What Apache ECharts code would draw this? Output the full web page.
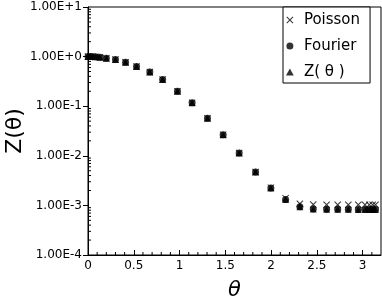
<!DOCTYPE html>
<html>
<head>
<meta charset="utf-8">
<script src="https://cdn.jsdelivr.net/npm/echarts@6/dist/echarts.min.js"></script>
<style>html,body{margin:0;padding:0;background:#fff}#c{width:382px;height:300px}</style>
</head>
<body>
<div id="c"></div>
<script>
var theta = [0, 0.034, 0.08, 0.13, 0.2, 0.3, 0.41, 0.53, 0.675, 0.815, 0.977, 1.137, 1.305, 1.476, 1.651, 1.83, 1.997, 2.158, 2.314, 2.46, 2.606, 2.727, 2.843, 2.952, 3.025, 3.072, 3.109, 3.14];
var fourier = [1.0, 1.0, 0.99, 0.97, 0.925, 0.87, 0.77, 0.63, 0.49, 0.344, 0.2, 0.117, 0.057, 0.0267, 0.0114, 0.00473, 0.00225, 0.00131, 0.00094, 0.00085, 0.00084, 0.00084, 0.00084, 0.00083, 0.00083, 0.00083, 0.00083, 0.00083];
var poisson = [1.0, 1.0, 0.99, 0.97, 0.925, 0.87, 0.77, 0.63, 0.49, 0.344, 0.2, 0.117, 0.057, 0.0267, 0.0114, 0.00473, 0.00228, 0.0014, 0.00108, 0.00104, 0.00103, 0.00103, 0.00103, 0.00103, 0.00103, 0.00103, 0.00103, 0.00103];
var zTheta = [1.0, 1.0, 0.99, 0.97, 0.925, 0.87, 0.77, 0.63, 0.49, 0.344, 0.2, 0.117, 0.057, 0.0267, 0.0114, 0.00473, 0.00225, 0.00131, 0.00094, 0.00085, 0.00084, 0.00084, 0.00084, 0.00083, 0.00083, 0.00083, 0.00083, 0.00083];
var seriesNames = ['Poisson', 'Fourier', 'Z( θ )'];
var xMinorTicks = [0.1,0.2,0.3,0.4,0.6,0.7,0.8,0.9,1.1,1.2,1.3,1.4,1.6,1.7,1.8,1.9,2.1,2.2,2.3,2.4,2.6,2.7,2.8,2.9,3.1];
var yMinorTicks = [2e-4,3e-4,4e-4,5e-4,6e-4,7e-4,8e-4,9e-4,
                   2e-3,3e-3,4e-3,5e-3,6e-3,7e-3,8e-3,9e-3,
                   2e-2,3e-2,4e-2,5e-2,6e-2,7e-2,8e-2,9e-2,
                   2e-1,3e-1,4e-1,5e-1,6e-1,7e-1,8e-1,9e-1,
                   2,3,4,5,6,7,8,9];

var crossPath = 'path://M0,1L1,0L5,4L9,0L10,1L6,5L10,9L9,10L5,6L1,10L0,9L4,5Z';
var triPath = 'path://M5,0L10,9L0,9Z';
var FONT = 'DejaVu Sans';

function pairs(xs, ys){ return xs.map(function(x,i){ return [x, ys[i]]; }); }

var chart = echarts.init(document.getElementById('c'), null, {renderer:'canvas'});
chart.setOption({
  animation: false,
  backgroundColor: '#fff',
  textStyle: {fontFamily: FONT},
  grid: {left: 88, right: 1, top: 7, bottom: 45, show: true, borderColor: '#000', borderWidth: 1,
         backgroundColor: 'transparent', containLabel: false, outerBoundsMode: 'none'},
  legend: {
    data: [
      {name: seriesNames[0], icon: crossPath},
      {name: seriesNames[1], icon: 'circle'},
      {name: seriesNames[2], icon: triPath}
    ],
    orient: 'vertical',
    left: 283, top: 7,
    itemWidth: 18, itemHeight: 7,
    symbolKeepAspect: true,
    itemGap: 10,
    padding: [5, 10, 3, 3],
    borderColor: '#000', borderWidth: 1,
    backgroundColor: '#fff',
    textStyle: {fontFamily: FONT, fontSize: 15, color: '#000', lineHeight: 16},
    selectedMode: false
  },
  xAxis: {
    type: 'value', min: 0, max: 3.2, interval: 0.5,
    name: 'θ', nameLocation: 'middle', nameGap: 25, nameMoveOverlap: false,
    nameTextStyle: {fontFamily: FONT, fontSize: 21, fontStyle: 'italic', color: '#000'},
    axisLine: {show: true, lineStyle: {color: '#000', width: 1}},
    axisTick: {show: true, inside: true, length: 5, lineStyle: {color: '#000'}},
    axisLabel: {color: '#000', fontSize: 12, fontFamily: FONT, margin: 5, showMaxLabel: false},
    splitLine: {show: false}
  },
  yAxis: {
    type: 'log', logBase: 10, min: 1e-4, max: 10, splitNumber: 5,
    name: 'Z(θ)', nameLocation: 'middle', nameGap: 62, nameRotate: 90, nameMoveOverlap: false,
    nameTextStyle: {fontFamily: FONT, fontSize: 22, color: '#000'},
    axisLine: {show: true, lineStyle: {color: '#000', width: 1}},
    axisTick: {show: true, inside: false, length: 5, lineStyle: {color: '#000'}},
    axisLabel: {color: '#000', fontSize: 12, fontFamily: FONT, margin: 6,
      formatter: function(v){ return Number(v).toExponential(2).toUpperCase(); }},
    splitLine: {show: false}
  },
  series: [
    {
      name: 'xminor', type: 'custom', silent: true, clip: false, z: 5,
      data: xMinorTicks.map(function(v){ return [v, 1e-4]; }),
      renderItem: function(params, api){
        var p = api.coord([api.value(0), 1e-4]);
        return {type: 'line', shape: {x1: p[0], y1: p[1], x2: p[0], y2: p[1] - 3}, style: {stroke: '#000', lineWidth: 1}};
      }
    },
    {
      name: 'yminor', type: 'custom', silent: true, clip: false, z: 5,
      data: yMinorTicks.map(function(v){ return [0, v]; }),
      renderItem: function(params, api){
        var p = api.coord([0, api.value(1)]);
        return {type: 'line', shape: {x1: p[0], y1: p[1], x2: p[0] + 3, y2: p[1]}, style: {stroke: '#000', lineWidth: 1}};
      }
    },
    {
      name: seriesNames[0], type: 'scatter', symbol: crossPath, symbolSize: 7,
      itemStyle: {color: '#000'}, data: pairs(theta, poisson), z: 2
    },
    {
      name: seriesNames[1], type: 'scatter', symbol: 'circle', symbolSize: 7,
      itemStyle: {color: '#000'}, data: pairs(theta, fourier), z: 3
    },
    {
      name: seriesNames[2], type: 'scatter', symbol: 'triangle', symbolSize: 7,
      itemStyle: {color: '#000'}, data: pairs(theta, zTheta), z: 4
    }
  ]
});
</script>
</body>
</html>
